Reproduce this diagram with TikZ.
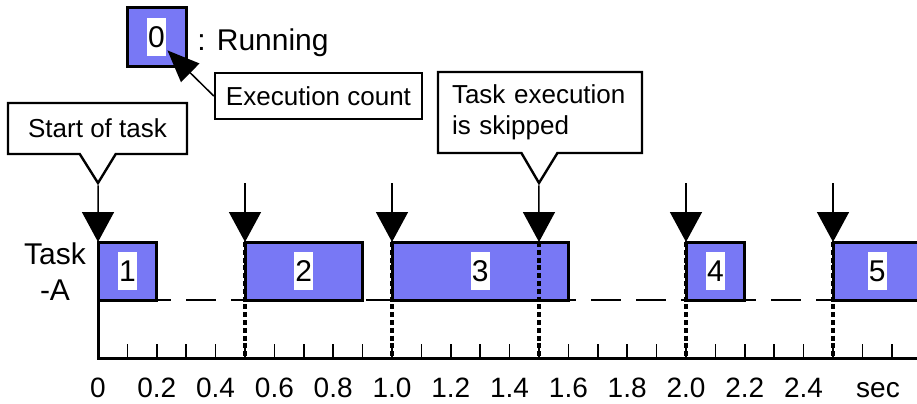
\documentclass[tikz,border=0pt]{standalone}
\usepackage{fontspec}
\setmainfont{Liberation Sans}
\usetikzlibrary{arrows.meta,positioning,shapes.callouts}
\definecolor{runblue}{RGB}{120,120,245}

\begin{document}
\begin{tikzpicture}[x=0.5pt,y=-0.5pt,>=Latex]

\tikzset{
run/.style={draw=black,line width=1.5pt,fill=runblue},
cnt/.style={fill=white,inner xsep=0.6pt,inner ysep=0pt,minimum height=19pt,font=\fontsize{15}{18}\selectfont},
call/.style={rectangle callout,draw=black,line width=1.2pt,fill=white,font=\fontsize{13}{15.5}\selectfont,callout pointer width=18pt},
trig/.style={-{Triangle[length=15pt,width=16pt]},line width=0.75pt},
ptr/.style={-{Triangle[length=16pt,width=13pt]},line width=0.75pt},
rel/.style={line width=1.7pt,dash pattern=on 2.5pt off 1.4pt},
idle/.style={line width=1.3pt,dash pattern=on 15pt off 7.5pt,dash phase=1.5pt},
num/.style={font=\fontsize{14}{17}\selectfont,inner sep=0pt}
}

\useasboundingbox (0,0) rectangle (917,403);
\clip (0,0) rectangle (917,403);

% release points of Task-A
\foreach \t [count=\i] in {0,0.5,1.0,1.5,2.0,2.5}{
  \coordinate (hi\i) at ({98+294*\t},183);
  \coordinate (lo\i) at ({98+294*\t},242);
  \coordinate (ax\i) at ({98+294*\t},358);
}

% legend
\node[run,minimum width=29.5pt,minimum height=29.5pt,inner sep=0pt] (legend) at (156.5,37) {};
\node[cnt] (n0) at (legend) {0};
\node[font=\fontsize{15}{18}\selectfont,anchor=base west,inner sep=0pt] (runlbl) at (197,50) {: Running};
\node[draw,line width=1.2pt,minimum width=103.5pt,minimum height=23pt,font=\fontsize{13}{15.5}\selectfont] (exec) at (318.5,96) {Execution count};
\draw[ptr] (exec.west) -- ([xshift=0.5pt,yshift=3pt]n0.south east);

% callouts
\node[call,minimum width=89.5pt,minimum height=25.5pt,callout absolute pointer={(hi1)}] (start) at (97.5,128.5) {Start of task};
\node[call,text width=88pt,align=left,inner xsep=7pt,minimum height=40.5pt,callout absolute pointer={(hi4)}] (skip) at (540,112.5) {Task execution\\is skipped};

% idle line and running boxes
\draw[idle] (99,300) -- (917,300);
\draw[run] (98,242) rectangle (156.8,300);
\draw[run] (245,242) rectangle (362.6,300);
\draw[run] (392,242) rectangle (568.4,300);
\draw[run] (686,242) rectangle (744.8,300);
\draw[run] (833,242) rectangle (921.2,300);
\node[cnt] (n1) at (127.4,271) {1};
\node[cnt] (n2) at (303.8,271) {2};
\node[cnt] (n3) at (480.2,271) {3};
\node[cnt] (n4) at (715.4,271) {4};
\node[cnt] (n5) at (877.1,271) {5};

\node[font=\fontsize{15}{18}\selectfont,align=center,inner sep=0pt] (tasklbl) at (55,272) {Task\\-A};

% triggers
\draw[trig] (start.pointer) -- (lo1);
\draw[trig] (skip.pointer) -- (lo4);
\foreach \i in {2,3,5,6}
  \draw[trig] (hi\i) -- (lo\i);
\foreach \i in {2,...,6}
  \draw[rel] (lo\i) -- (ax\i);

% time axis
\draw[line width=1.5pt] (98,300) -- (ax1) -- (917,358);
\foreach \k in {1,...,27}
  \draw[line width=0.8pt] ({98+29.4*\k},344) -- ({98+29.4*\k},358);
\foreach \t [count=\i] in {0,0.2,0.4,0.6,0.8,1.0,1.2,1.4,1.6,1.8,2.0,2.2,2.4}
  \node[num,anchor=base] (lab\i) at ({98+294*\t},397) {\t};
\node[num,anchor=base] (unit) at (878,397) {sec};

\end{tikzpicture}
\end{document}
